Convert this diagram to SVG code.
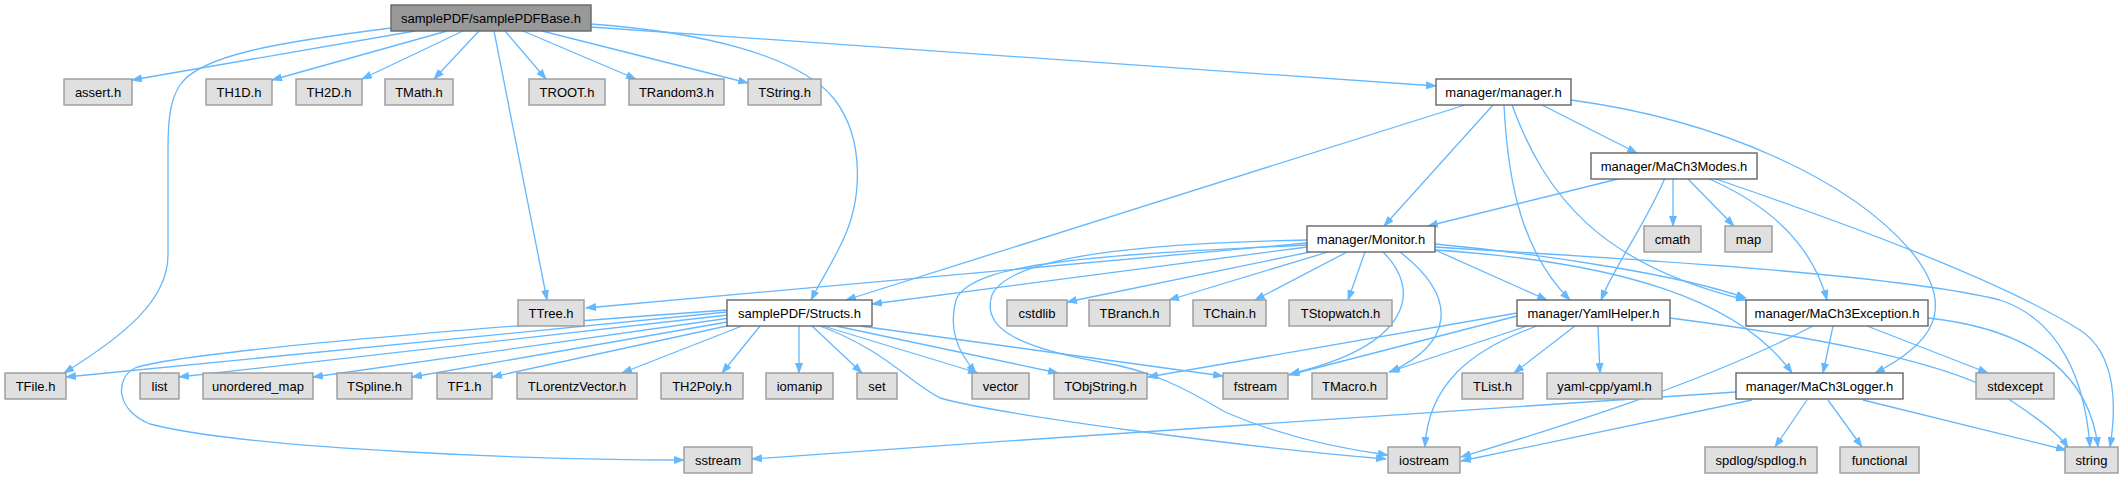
<svg xmlns="http://www.w3.org/2000/svg" width="2124" height="478" viewBox="0 0 2124 478">
<defs>
<style>
.e path{fill:none;stroke:#63B8FF;stroke-width:1.3;marker-end:url(#a)}
.n rect{stroke-width:1.4}
.g rect{fill:#E0E0E0;stroke:#999999}
.w rect{fill:#FFFFFF;stroke:#666666}
.r rect{fill:#999999;stroke:#666666}
.n text{font-family:"Liberation Sans",Arial,Helvetica,sans-serif;font-size:13px;fill:#000;text-anchor:middle}
</style>
<marker id="a" markerWidth="11" markerHeight="8" refX="10" refY="4" orient="auto" markerUnits="userSpaceOnUse"><path d="M0,0 L11,4 L0,8 z" fill="#63B8FF"/></marker>
</defs>
<rect width="2124" height="478" fill="#FFFFFF"/>
<g id="edges" class="e">
<path d="M391,28 C280,42 200,55 180,85 C170,100 168,120 168,150 L168,255 C168,300 125,335 64,373"/>
<path d="M415,31 L132,80"/>
<path d="M447,31 L272,80"/>
<path d="M463,31 L362,79"/>
<path d="M479,31 L434,79"/>
<path d="M494,31 L547,300"/>
<path d="M505,31 L546,79"/>
<path d="M523,31 L636,79"/>
<path d="M542,31 L748,83"/>
<path d="M591,24 C700,32 800,55 835,100 C865,140 862,200 843,240 C833,262 820,282 811,300"/>
<path d="M591,27 L1436,86"/>
<path d="M1465,105 L846,300"/>
<path d="M1493,105 L1384,226"/>
<path d="M1504,105 C1508,190 1525,255 1570,300"/>
<path d="M1512,105 C1545,195 1600,265 1746,300"/>
<path d="M1571,100 C1720,120 1850,180 1910,250 C1960,310 1930,345 1875,373"/>
<path d="M1542,105 L1637,153"/>
<path d="M1622,178 L1428,226"/>
<path d="M1665,178 C1645,225 1615,265 1601,300"/>
<path d="M1673,178 L1673,226"/>
<path d="M1687,178 L1734,226"/>
<path d="M1707,178 C1770,205 1812,245 1827,300"/>
<path d="M1713,178 C1850,225 2000,280 2080,330 C2118,355 2116,410 2110,447"/>
<path d="M1307,243 L586,308"/>
<path d="M1307,247 L872,304"/>
<path d="M1310,252 L1067,302"/>
<path d="M1328,252 L1169,300"/>
<path d="M1347,252 L1255,300"/>
<path d="M1365,252 L1348,300"/>
<path d="M1307,245 C1100,255 970,262 956,300 C948,330 958,352 976,373"/>
<path d="M1307,240 C1150,243 1010,255 992,295 C982,325 1010,346 1100,362 C1150,370 1185,388 1225,412 C1290,440 1350,450 1388,455"/>
<path d="M1383,252 C1422,290 1412,345 1290,374"/>
<path d="M1400,252 C1462,300 1450,345 1390,372"/>
<path d="M1435,250 L1547,300"/>
<path d="M1435,244 C1550,255 1680,275 1746,298"/>
<path d="M1435,250 C1620,262 1740,300 1792,373"/>
<path d="M1435,247 C1650,260 1900,275 2000,300 C2060,320 2085,380 2090,447"/>
<path d="M727,312 L66,377"/>
<path d="M728,315 L179,377"/>
<path d="M730,318 L313,377"/>
<path d="M733,321 L412,377"/>
<path d="M736,324 L492,377"/>
<path d="M742,326 L622,373"/>
<path d="M760,326 L722,373"/>
<path d="M799,326 L799,373"/>
<path d="M812,326 L862,373"/>
<path d="M823,326 L978,373"/>
<path d="M836,326 L1058,373"/>
<path d="M860,326 L1223,376"/>
<path d="M820,326 C885,350 910,383 940,398 C1000,415 1250,448 1386,459"/>
<path d="M727,310 C450,330 180,352 135,368 C115,378 115,410 150,424 C250,450 550,460 684,460"/>
<path d="M1575,326 L1514,373"/>
<path d="M1598,326 L1600,373"/>
<path d="M1670,318 C1800,335 1950,360 2010,400 C2040,420 2060,435 2068,448"/>
<path d="M1517,313 L1148,377"/>
<path d="M1517,316 L1289,375"/>
<path d="M1527,326 L1389,372"/>
<path d="M1537,326 C1470,350 1428,385 1425,447"/>
<path d="M1833,326 L1823,373"/>
<path d="M1867,326 L1988,373"/>
<path d="M1813,326 C1700,385 1550,430 1461,457"/>
<path d="M1928,318 C2040,330 2090,380 2098,447"/>
<path d="M1736,392 C1500,408 1100,434 752,459"/>
<path d="M1752,400 L1461,461"/>
<path d="M1807,400 L1775,447"/>
<path d="M1828,400 L1862,447"/>
<path d="M1863,400 L2066,450"/>
</g>
<g id="n0" class="n r"><rect x="391" y="5" width="200" height="26"/><text x="491" y="22.5">samplePDF/samplePDFBase.h</text></g>
<g id="n1" class="n g"><rect x="64" y="79" width="68" height="26"/><text x="98" y="96.5">assert.h</text></g>
<g id="n2" class="n g"><rect x="206" y="79" width="66" height="26"/><text x="239" y="96.5">TH1D.h</text></g>
<g id="n3" class="n g"><rect x="296" y="79" width="66" height="26"/><text x="329" y="96.5">TH2D.h</text></g>
<g id="n4" class="n g"><rect x="385" y="79" width="68" height="26"/><text x="419" y="96.5">TMath.h</text></g>
<g id="n5" class="n g"><rect x="529" y="79" width="76" height="26"/><text x="567" y="96.5">TROOT.h</text></g>
<g id="n6" class="n g"><rect x="629" y="79" width="95" height="26"/><text x="676.5" y="96.5">TRandom3.h</text></g>
<g id="n7" class="n g"><rect x="748" y="79" width="73" height="26"/><text x="784.5" y="96.5">TString.h</text></g>
<g id="n8" class="n w"><rect x="1436" y="79" width="135" height="26"/><text x="1503.5" y="96.5">manager/manager.h</text></g>
<g id="n9" class="n w"><rect x="1591" y="153" width="166" height="26"/><text x="1674" y="170.5">manager/MaCh3Modes.h</text></g>
<g id="n10" class="n w"><rect x="1307" y="226" width="128" height="26"/><text x="1371" y="243.5">manager/Monitor.h</text></g>
<g id="n11" class="n g"><rect x="1644" y="226" width="57" height="26"/><text x="1672.5" y="243.5">cmath</text></g>
<g id="n12" class="n g"><rect x="1725" y="226" width="47" height="26"/><text x="1748.5" y="243.5">map</text></g>
<g id="n13" class="n g"><rect x="518" y="300" width="66" height="26"/><text x="551" y="317.5">TTree.h</text></g>
<g id="n14" class="n w"><rect x="727" y="300" width="145" height="26"/><text x="799.5" y="317.5">samplePDF/Structs.h</text></g>
<g id="n15" class="n g"><rect x="1007" y="300" width="60" height="26"/><text x="1037" y="317.5">cstdlib</text></g>
<g id="n16" class="n g"><rect x="1089" y="300" width="81" height="26"/><text x="1129.5" y="317.5">TBranch.h</text></g>
<g id="n17" class="n g"><rect x="1193" y="300" width="73" height="26"/><text x="1229.5" y="317.5">TChain.h</text></g>
<g id="n18" class="n g"><rect x="1289" y="300" width="103" height="26"/><text x="1340.5" y="317.5">TStopwatch.h</text></g>
<g id="n19" class="n w"><rect x="1517" y="300" width="153" height="26"/><text x="1593.5" y="317.5">manager/YamlHelper.h</text></g>
<g id="n20" class="n w"><rect x="1746" y="300" width="182" height="26"/><text x="1837" y="317.5">manager/MaCh3Exception.h</text></g>
<g id="n21" class="n g"><rect x="5" y="373" width="61" height="26"/><text x="35.5" y="390.5">TFile.h</text></g>
<g id="n22" class="n g"><rect x="140" y="373" width="39" height="26"/><text x="159.5" y="390.5">list</text></g>
<g id="n23" class="n g"><rect x="203" y="373" width="110" height="26"/><text x="258" y="390.5">unordered_map</text></g>
<g id="n24" class="n g"><rect x="337" y="373" width="75" height="26"/><text x="374.5" y="390.5">TSpline.h</text></g>
<g id="n25" class="n g"><rect x="437" y="373" width="55" height="26"/><text x="464.5" y="390.5">TF1.h</text></g>
<g id="n26" class="n g"><rect x="517" y="373" width="120" height="26"/><text x="577" y="390.5">TLorentzVector.h</text></g>
<g id="n27" class="n g"><rect x="661" y="373" width="82" height="26"/><text x="702" y="390.5">TH2Poly.h</text></g>
<g id="n28" class="n g"><rect x="766" y="373" width="67" height="26"/><text x="799.5" y="390.5">iomanip</text></g>
<g id="n29" class="n g"><rect x="857" y="373" width="40" height="26"/><text x="877" y="390.5">set</text></g>
<g id="n30" class="n g"><rect x="972" y="373" width="57" height="26"/><text x="1000.5" y="390.5">vector</text></g>
<g id="n31" class="n g"><rect x="1054" y="373" width="93" height="26"/><text x="1100.5" y="390.5">TObjString.h</text></g>
<g id="n32" class="n g"><rect x="1223" y="373" width="65" height="26"/><text x="1255.5" y="390.5">fstream</text></g>
<g id="n33" class="n g"><rect x="1312" y="373" width="75" height="26"/><text x="1349.5" y="390.5">TMacro.h</text></g>
<g id="n34" class="n g"><rect x="1462" y="373" width="61" height="26"/><text x="1492.5" y="390.5">TList.h</text></g>
<g id="n35" class="n g"><rect x="1547" y="373" width="115" height="26"/><text x="1604.5" y="390.5">yaml-cpp/yaml.h</text></g>
<g id="n36" class="n w"><rect x="1736" y="373" width="167" height="26"/><text x="1819.5" y="390.5">manager/MaCh3Logger.h</text></g>
<g id="n37" class="n g"><rect x="1976" y="373" width="78" height="26"/><text x="2015" y="390.5">stdexcept</text></g>
<g id="n38" class="n g"><rect x="684" y="447" width="68" height="26"/><text x="718" y="464.5">sstream</text></g>
<g id="n39" class="n g"><rect x="1388" y="447" width="72" height="26"/><text x="1424" y="464.5">iostream</text></g>
<g id="n40" class="n g"><rect x="1705" y="447" width="112" height="26"/><text x="1761" y="464.5">spdlog/spdlog.h</text></g>
<g id="n41" class="n g"><rect x="1840" y="447" width="79" height="26"/><text x="1879.5" y="464.5">functional</text></g>
<g id="n42" class="n g"><rect x="2065" y="447" width="53" height="26"/><text x="2091.5" y="464.5">string</text></g>
</svg>
